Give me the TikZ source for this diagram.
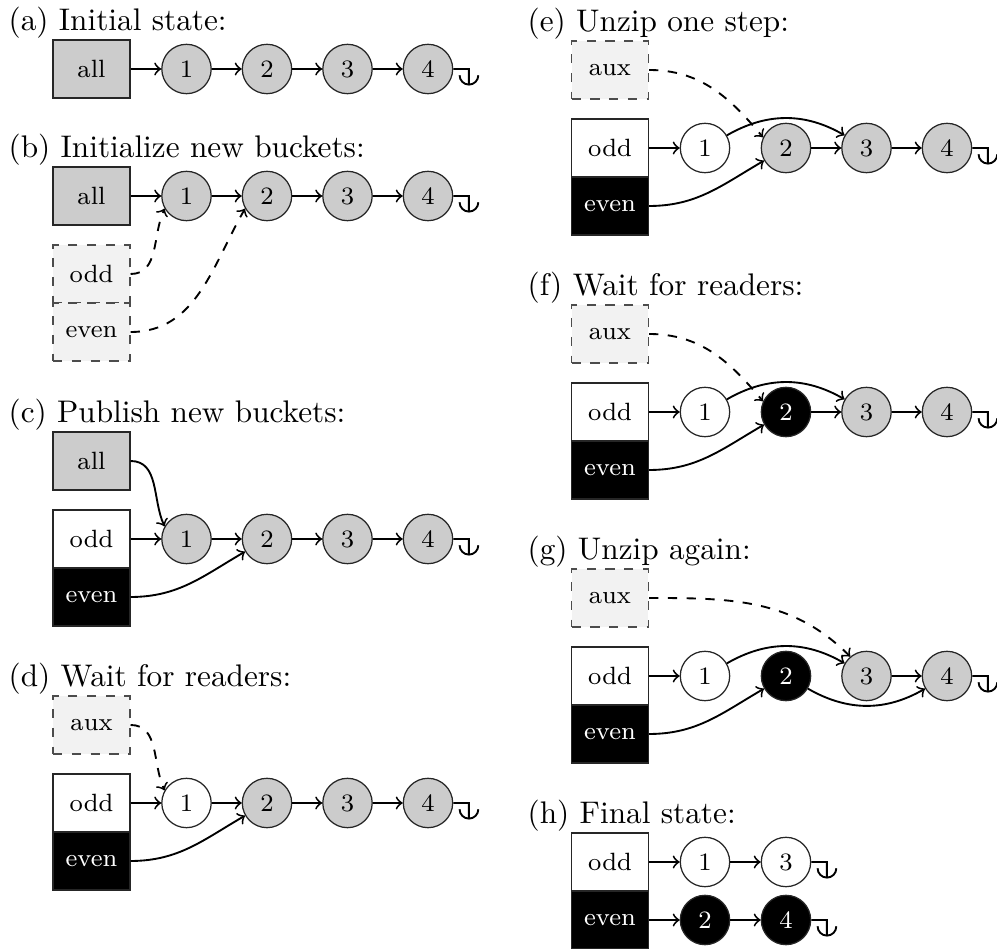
\documentclass[tikz,border=0pt]{standalone}
\usetikzlibrary{arrows}
\tikzset{
  bucket/.style={draw=black!85, thin, minimum width=24.6pt, minimum height=18.6pt, inner sep=0pt, font=\footnotesize},
  allbox/.style={bucket, fill=black!20},
  oddbox/.style={bucket, fill=white},
  evenbox/.style={bucket, fill=black, text=white},
  tmpbox/.style={bucket, dashed, draw=black!70, fill=black!5},
  elem/.style={circle, draw=black!85, thin, minimum size=15.8pt, inner sep=0pt, font=\footnotesize},
  oldel/.style={elem, fill=black!20},
  oddel/.style={elem, fill=white},
  evenel/.style={elem, fill=black, text=white},
  ptr/.style={->, semithick},
  tptr/.style={->, semithick, dashed},
  nil/.style={semithick},
  heading/.style={anchor=base west, inner sep=0pt, font=\normalsize}
}
\newcommand\NilTerm[1]{\draw[nil] (#1.east) -- ++(5pt,0) -- ++(0,-5pt) ++(-3pt,3pt) arc[start angle=180,end angle=360,radius=3pt];}
\begin{document}
\begin{tikzpicture}[x=0.32pt, y=-0.32pt]
\useasboundingbox (0,0) rectangle (997,949);

% ---------- (a)
\node[heading] (ha) at (8,31) {(a) Initial state:};
\node[allbox] (aall) at (91.5,69) {all};
\node[oldel] (a1) at (186.5,69) {1};
\node[oldel] (a2) at (267,69) {2};
\node[oldel] (a3) at (347.5,69) {3};
\node[oldel] (a4) at (428,69) {4};
\draw[ptr] (aall) -- (a1);
\draw[ptr] (a1) -- (a2);
\draw[ptr] (a2) -- (a3);
\draw[ptr] (a3) -- (a4);
\NilTerm{a4}

% ---------- (b)
\node[heading] (hb) at (8,158) {(b) Initialize new buckets:};
\node[allbox] (ball) at (91.5,196) {all};
\node[tmpbox] (bodd) at (91.5,274) {odd};
\node[tmpbox] (beven) at (91.5,332) {even};
\node[oldel] (b1) at (186.5,196) {1};
\node[oldel] (b2) at (267,196) {2};
\node[oldel] (b3) at (347.5,196) {3};
\node[oldel] (b4) at (428,196) {4};
\draw[ptr] (ball) -- (b1);
\draw[ptr] (b1) -- (b2);
\draw[ptr] (b2) -- (b3);
\draw[ptr] (b3) -- (b4);
\NilTerm{b4}
\draw[tptr] (bodd.east) to[out=0,in=-115] (b1.210);
\draw[tptr] (beven.east) to[out=0,in=-120] (b2.210);

% ---------- (c)
\node[heading] (hc) at (8,423) {(c) Publish new buckets:};
\node[allbox] (call) at (91.5,461) {all};
\node[oddbox] (codd) at (91.5,539) {odd};
\node[evenbox] (ceven) at (91.5,597) {even};
\node[oldel] (c1) at (186.5,539) {1};
\node[oldel] (c2) at (267,539) {2};
\node[oldel] (c3) at (347.5,539) {3};
\node[oldel] (c4) at (428,539) {4};
\draw[ptr] (call.east) to[out=0,in=115] (c1.150);
\draw[ptr] (codd) -- (c1);
\draw[ptr] (c1) -- (c2);
\draw[ptr] (c2) -- (c3);
\draw[ptr] (c3) -- (c4);
\draw[ptr] (ceven.east) to[out=0,in=210] (c2.210);
\NilTerm{c4}

% ---------- (d)
\node[heading] (hd) at (8,687) {(d) Wait for readers:};
\node[tmpbox] (daux) at (91.5,725) {aux};
\node[oddbox] (dodd) at (91.5,803) {odd};
\node[evenbox] (deven) at (91.5,861) {even};
\node[oddel] (d1) at (186.5,803) {1};
\node[oldel] (d2) at (267,803) {2};
\node[oldel] (d3) at (347.5,803) {3};
\node[oldel] (d4) at (428,803) {4};
\draw[tptr] (daux.east) to[out=0,in=115] (d1.150);
\draw[ptr] (dodd) -- (d1);
\draw[ptr] (d1) -- (d2);
\draw[ptr] (d2) -- (d3);
\draw[ptr] (d3) -- (d4);
\draw[ptr] (deven.east) to[out=0,in=210] (d2.210);
\NilTerm{d4}

% ---------- (e)
\node[heading] (he) at (527,32) {(e) Unzip one step:};
\node[tmpbox] (eaux) at (610,70) {aux};
\node[oddbox] (eodd) at (610,148) {odd};
\node[evenbox] (eeven) at (610,206) {even};
\node[oddel] (e1) at (705,148) {1};
\node[oldel] (e2) at (786,148) {2};
\node[oldel] (e3) at (866.5,148) {3};
\node[oldel] (e4) at (947,148) {4};
\draw[tptr] (eaux.east) to[out=0,in=130] (e2.155);
\draw[ptr] (eodd) -- (e1);
\draw[ptr] (e1.30) to[out=30,in=150] (e3.150);
\draw[ptr] (e2) -- (e3);
\draw[ptr] (e3) -- (e4);
\draw[ptr] (eeven.east) to[out=0,in=210] (e2.210);
\NilTerm{e4}

% ---------- (f)
\node[heading] (hf) at (527,296) {(f) Wait for readers:};
\node[tmpbox] (faux) at (610,334) {aux};
\node[oddbox] (fodd) at (610,412) {odd};
\node[evenbox] (feven) at (610,470) {even};
\node[oddel] (f1) at (705,412) {1};
\node[evenel] (f2) at (786,412) {2};
\node[oldel] (f3) at (866.5,412) {3};
\node[oldel] (f4) at (947,412) {4};
\draw[tptr] (faux.east) to[out=0,in=130] (f2.155);
\draw[ptr] (fodd) -- (f1);
\draw[ptr] (f1.30) to[out=30,in=150] (f3.150);
\draw[ptr] (f2) -- (f3);
\draw[ptr] (f3) -- (f4);
\draw[ptr] (feven.east) to[out=0,in=210] (f2.210);
\NilTerm{f4}

% ---------- (g)
\node[heading] (hg) at (527,560) {(g) Unzip again:};
\node[tmpbox] (gaux) at (610,598) {aux};
\node[oddbox] (godd) at (610,676) {odd};
\node[evenbox] (geven) at (610,734) {even};
\node[oddel] (g1) at (705,676) {1};
\node[evenel] (g2) at (786,676) {2};
\node[oldel] (g3) at (866.5,676) {3};
\node[oldel] (g4) at (947,676) {4};
\draw[tptr] (gaux.east) to[out=0,in=135] (g3.130);
\draw[ptr] (godd) -- (g1);
\draw[ptr] (g1.30) to[out=30,in=150] (g3.150);
\draw[ptr] (g2.-30) to[out=-30,in=-150] (g4.210);
\draw[ptr] (g3) -- (g4);
\draw[ptr] (geven.east) to[out=0,in=210] (g2.210);
\NilTerm{g4}

% ---------- (h)
\node[heading] (hh) at (527,824) {(h) Final state:};
\node[oddbox] (hodd) at (610,862) {odd};
\node[evenbox] (heven) at (610,920) {even};
\node[oddel] (h1) at (705,862) {1};
\node[oddel] (h3) at (786,862) {3};
\node[evenel] (h2) at (705,920) {2};
\node[evenel] (h4) at (786,920) {4};
\draw[ptr] (hodd) -- (h1);
\draw[ptr] (h1) -- (h3);
\draw[ptr] (heven) -- (h2);
\draw[ptr] (h2) -- (h4);
\NilTerm{h3}
\NilTerm{h4}
\end{tikzpicture}
\end{document}
